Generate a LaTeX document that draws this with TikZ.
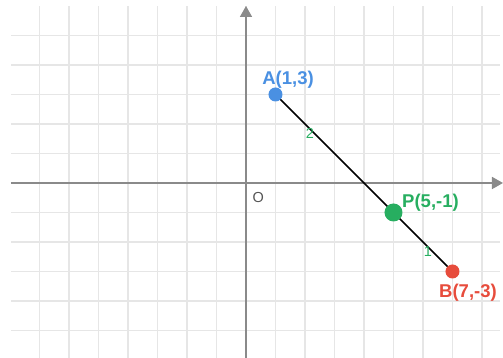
\documentclass[tikz,border=0pt]{standalone}
\usepackage{fontspec}
\setmainfont{Liberation Sans}
\usetikzlibrary{arrows.meta}
\definecolor{gridc}{HTML}{E6E6E6}
\definecolor{axisc}{HTML}{8A8A8A}
\definecolor{blueA}{HTML}{4A90E2}
\definecolor{greenP}{HTML}{27AE60}
\definecolor{redB}{HTML}{E74C3C}
\definecolor{origc}{HTML}{555555}
\pgfdeclarelayer{gridlayer}
\pgfdeclarelayer{seglayer}
\pgfsetlayers{gridlayer,seglayer,main}
\begin{document}
\begin{tikzpicture}[x=29.5pt,y=29.5pt,
  gridline/.style={draw=gridc,line width=1.1pt},
  axisline/.style={draw=axisc,line width=1.6pt,-{Triangle[width=12pt,length=11pt]}},
  pt/.style={circle,inner sep=0pt,draw=none},
  lbl/.style={anchor=base,inner sep=0pt,font=\fontsize{18.5}{21}\selectfont\bfseries},
  ratio/.style={anchor=base,inner sep=0pt,text=greenP,font=\fontsize{14.5}{17}\selectfont},
  seg/.style={draw=black,line width=1.6pt}]
\useasboundingbox (-8.339,-5.932) rectangle (8.712,6.203);
\begin{pgfonlayer}{gridlayer}
  \foreach \i in {-7,...,8} \draw[gridline] (\i,-5.932) -- (\i,6.0);
  \foreach \j in {-5,...,5} \draw[gridline] (-7.97,\j) -- (8.6,\j);
  \coordinate (xs) at (-7.97,0);
  \coordinate (xe) at (8.712,0);
  \coordinate (ys) at (0,-5.932);
  \coordinate (ye) at (0,6.0);
  \draw[axisline] (xs) -- (xe);
  \draw[axisline] (ys) -- (ye);
\end{pgfonlayer}
\node[pt,fill=blueA,minimum size=14pt] (A) at (1,3) {};
\node[pt,fill=greenP,minimum size=18pt] (P) at (5,-1) {};
\node[pt,fill=redB,minimum size=14pt] (B) at (7,-3) {};
\begin{pgfonlayer}{seglayer}
  \draw[seg] (A.center) -- (B.center);
\end{pgfonlayer}
\node[lbl,text=blueA] (Alab) at (1.424,3.322) {A(1,3)};
\node[lbl,text=greenP] (Plab) at (6.254,-0.814) {P(5,-1)};
\node[lbl,text=redB] (Blab) at (7.525,-3.898) {B(7,-3)};
\node[ratio] (r2) at (2.169,1.525) {2};
\node[ratio] (r1) at (6.169,-2.475) {1};
\node[anchor=base,inner sep=0pt,text=origc,font=\fontsize{14.5}{17}\selectfont] (O) at (0.42,-0.678) {O};
\end{tikzpicture}
\end{document}
